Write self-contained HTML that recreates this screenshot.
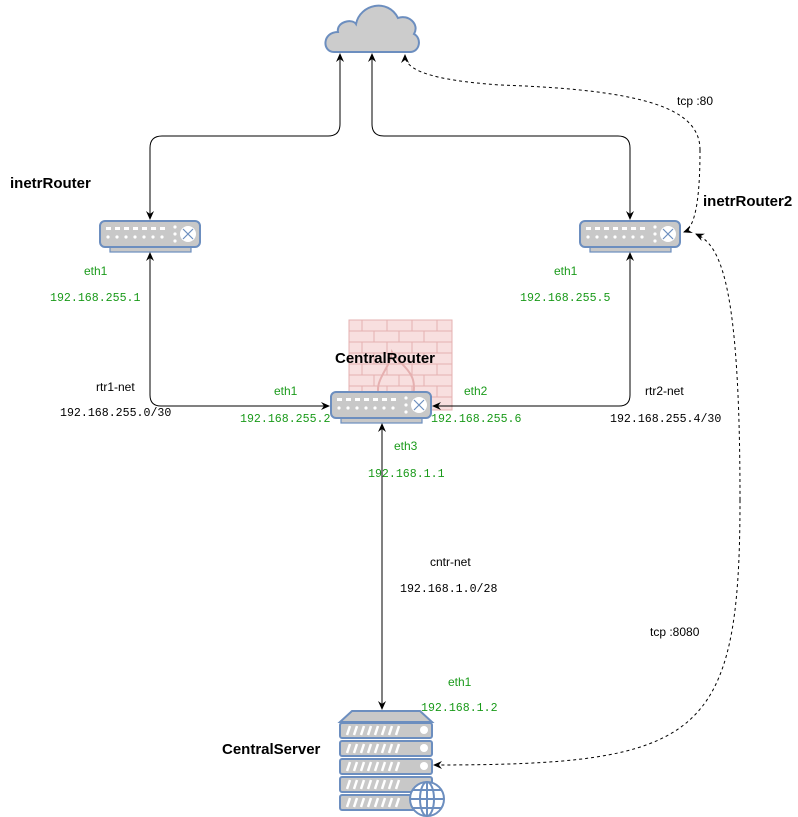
<!DOCTYPE html>
<html><head><meta charset="utf-8"><style>
body{margin:0;background:#fff}
svg{display:block}
.b{font:bold 15px "Liberation Sans",sans-serif;fill:#000}
.g{font:12px "Liberation Sans",sans-serif;fill:#1a9a1a}
.gm{font:11.6px "Liberation Mono",monospace;fill:#1a9a1a}
.k{font:12px "Liberation Sans",sans-serif;fill:#000}
.km{font:11.6px "Liberation Mono",monospace;fill:#000}
</style></head><body>
<svg width="798" height="817" viewBox="0 0 798 817" xmlns="http://www.w3.org/2000/svg">
<defs>
<marker id="a" markerWidth="10" markerHeight="10" refX="8" refY="5" orient="auto" markerUnits="userSpaceOnUse"><path d="M0,1 L9,5 L0,9 L3,5 Z" fill="#000"/></marker>
<g id="rt">
<rect x="10" y="26" width="81" height="5" fill="#c8c8c8" stroke="#6c8ebf" stroke-width="1.2"/>
<rect x="0" y="0" width="100" height="26" rx="5" fill="#c8c8c8" stroke="#6c8ebf" stroke-width="2"/>
<g fill="#fff">
<rect x="6" y="6" width="5" height="3"/><rect x="15" y="6" width="5" height="3"/><rect x="24" y="6" width="5" height="3"/><rect x="33" y="6" width="5" height="3"/><rect x="42" y="6" width="5" height="3"/><rect x="51" y="6" width="5" height="3"/><rect x="60" y="6" width="5" height="3"/>
<circle cx="8" cy="16" r="1.6"/><circle cx="17" cy="16" r="1.6"/><circle cx="26" cy="16" r="1.6"/><circle cx="35" cy="16" r="1.6"/><circle cx="44" cy="16" r="1.6"/><circle cx="53" cy="16" r="1.6"/><circle cx="62" cy="16" r="1.6"/>
<circle cx="75" cy="6" r="1.6"/><circle cx="75" cy="13" r="1.6"/><circle cx="75" cy="20" r="1.6"/>
<circle cx="88" cy="13" r="8"/></g>
<path d="M83,8 L93,18 M93,8 L83,18" stroke="#6c8ebf" stroke-width="1.2"/>
</g>
</defs>

<path d="M334,52 C322,52 322,32 338,32 C336,22 352,18 356,24 C360,4 388,-2 398,18 C408,14 420,24 414,34 C422,38 420,52 410,52 Z" fill="#cccccc" stroke="#6c8ebf" stroke-width="2"/>

<g opacity="0.55">
<rect x="349" y="320" width="103" height="90" fill="#f4c6c6" stroke="#d07070"/>
<g stroke="#d07070" stroke-width="1" fill="none">
<path d="M349,331 H452 M349,342 H452 M349,353 H452 M349,364 H452 M349,375 H452 M349,386 H452 M349,397 H452"/>
<path d="M362,320v11 M387,320v11 M412,320v11 M437,320v11 M374,331v11 M399,331v11 M424,331v11 M362,342v11 M387,342v11 M412,342v11 M437,342v11 M374,353v11 M399,353v11 M424,353v11 M362,364v11 M387,364v11 M412,364v11 M437,364v11 M374,375v11 M399,375v11 M424,375v11 M362,386v11 M387,386v11 M412,386v11 M437,386v11"/>
<path d="M380,400 C372,380 390,370 392,352 C402,368 420,372 412,400" stroke-width="2"/>
</g></g>

<use href="#rt" x="100" y="221"/>
<use href="#rt" x="580" y="221"/>
<use href="#rt" x="331" y="392"/>

<g stroke="#6c8ebf" stroke-width="2">
<path d="M340,722 L352,711 L420,711 L432,722 Z" fill="#c8c8c8"/>
<g fill="#c8c8c8">
<rect x="340" y="723" width="92" height="15" rx="2"/>
<rect x="340" y="741" width="92" height="15" rx="2"/>
<rect x="340" y="759" width="92" height="15" rx="2"/>
<rect x="340" y="777" width="92" height="15" rx="2"/>
<rect x="340" y="795" width="92" height="15" rx="2"/>
</g></g>
<g stroke="#fff" stroke-width="2.5">
<path d="M347,735l3,-9 M354,735l3,-9 M361,735l3,-9 M368,735l3,-9 M375,735l3,-9 M382,735l3,-9 M389,735l3,-9 M396,735l3,-9"/>
<path d="M347,753l3,-9 M354,753l3,-9 M361,753l3,-9 M368,753l3,-9 M375,753l3,-9 M382,753l3,-9 M389,753l3,-9 M396,753l3,-9"/>
<path d="M347,771l3,-9 M354,771l3,-9 M361,771l3,-9 M368,771l3,-9 M375,771l3,-9 M382,771l3,-9 M389,771l3,-9 M396,771l3,-9"/>
<path d="M347,789l3,-9 M354,789l3,-9 M361,789l3,-9 M368,789l3,-9 M375,789l3,-9 M382,789l3,-9 M389,789l3,-9 M396,789l3,-9"/>
<path d="M347,807l3,-9 M354,807l3,-9 M361,807l3,-9 M368,807l3,-9 M375,807l3,-9 M382,807l3,-9 M389,807l3,-9 M396,807l3,-9"/>
</g>
<g fill="#fff"><circle cx="424" cy="730" r="4"/><circle cx="424" cy="748" r="4"/><circle cx="424" cy="766" r="4"/></g>
<g stroke="#6c8ebf" stroke-width="2" fill="#fff">
<circle cx="427" cy="799" r="17"/>
<ellipse cx="427" cy="799" rx="7" ry="17" fill="none"/>
<path d="M410,799H444 M413,790H441 M413,808H441 M427,782V816" fill="none"/>
</g>

<g fill="none" stroke="#000" stroke-width="1">
<path d="M340,124 Q340,136 328,136 H162 Q150,136 150,148 V219" marker-end="url(#a)"/>
<path d="M340,124 V54" marker-end="url(#a)"/>
<path d="M372,124 Q372,136 384,136 H618 Q630,136 630,148 V219" marker-end="url(#a)"/>
<path d="M372,124 V54" marker-end="url(#a)"/>
<path d="M150,300 V395 Q150,406 161,406 H329" marker-end="url(#a)"/>
<path d="M150,300 V253" marker-end="url(#a)"/>
<path d="M630,300 V395 Q630,406 619,406 H433" marker-end="url(#a)"/>
<path d="M630,300 V253" marker-end="url(#a)"/>
<path d="M382,560 V424" marker-end="url(#a)"/>
<path d="M382,560 V709" marker-end="url(#a)"/>
<g stroke-dasharray="3,3">
<path d="M700,150 C700,110 650,90 500,85 C430,80 405,70 405,55" marker-end="url(#a)"/>
<path d="M700,150 C700,200 695,228 684,232" marker-end="url(#a)"/>
<path d="M740,500 C740,280 720,245 696,234" marker-end="url(#a)"/>
<path d="M740,500 C740,740 700,765 434,765" marker-end="url(#a)"/>
</g></g>

<text class="b" x="10" y="188">inetrRouter</text>
<text class="b" x="703" y="206">inetrRouter2</text>
<text class="b" x="335" y="363">CentralRouter</text>
<text class="b" x="222" y="754">CentralServer</text>
<text class="g" x="84" y="275">eth1</text>
<text class="gm" x="50" y="301">192.168.255.1</text>
<text class="g" x="554" y="275">eth1</text>
<text class="gm" x="520" y="301">192.168.255.5</text>
<text class="k" x="96" y="391">rtr1-net</text>
<text class="km" x="60" y="416">192.168.255.0/30</text>
<text class="g" x="274" y="395">eth1</text>
<text class="gm" x="240" y="422">192.168.255.2</text>
<text class="g" x="464" y="395">eth2</text>
<text class="gm" x="431" y="422">192.168.255.6</text>
<text class="k" x="645" y="395">rtr2-net</text>
<text class="km" x="610" y="422">192.168.255.4/30</text>
<text class="g" x="394" y="450">eth3</text>
<text class="gm" x="368" y="477">192.168.1.1</text>
<text class="k" x="430" y="566">cntr-net</text>
<text class="km" x="400" y="592">192.168.1.0/28</text>
<text class="k" x="677" y="105">tcp :80</text>
<text class="k" x="650" y="636">tcp :8080</text>
<text class="g" x="448" y="686">eth1</text>
<text class="gm" x="421" y="711">192.168.1.2</text>
</svg>
</body></html>
